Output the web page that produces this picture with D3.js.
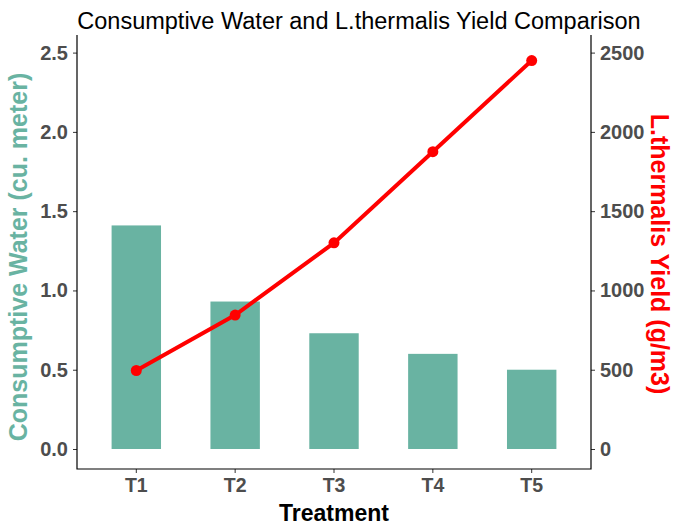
<!DOCTYPE html>
<html>
<head>
<meta charset="utf-8">
<script src="https://cdn.jsdelivr.net/npm/d3@7"></script>
<style>
  body { margin: 0; background: #fff; }
  svg text { font-family: "Liberation Sans", Arial, sans-serif; }
</style>
</head>
<body>
<div id="chart"></div>
<script>
const treatments = ['T1', 'T2', 'T3', 'T4', 'T5'];
const waterValues = [1.41, 0.93, 0.73, 0.60, 0.50];
const yieldValues = [495, 845, 1300, 1875, 2450];
const waterTicks = [0, 0.5, 1.0, 1.5, 2.0, 2.5];
const yieldTicks = [0, 500, 1000, 1500, 2000, 2500];

const width = 675;
const height = 526;
const panel = { left: 77, right: 591, top: 35, bottom: 469 };
const barColor = '#69b3a2';
const lineColor = '#ff0000';
const tickColor = '#4d4d4d';

const svg = d3.select('#chart')
  .append('svg')
  .attr('width', width)
  .attr('height', height);

const x = d3.scaleBand()
  .domain(treatments)
  .range([panel.left, panel.right])
  .paddingInner(0.5)
  .paddingOuter(0.35);

const yLeft = d3.scaleLinear().domain([0, 2.5]).range([449, 52.6]);
const yRight = d3.scaleLinear().domain([0, 2500]).range([449, 52.6]);

// bars
svg.selectAll('.bar')
  .data(treatments)
  .enter()
  .append('rect')
  .attr('class', 'bar')
  .attr('x', (d) => x(d))
  .attr('y', (d, i) => yLeft(waterValues[i]))
  .attr('width', x.bandwidth())
  .attr('height', (d, i) => yLeft(0) - yLeft(waterValues[i]))
  .attr('fill', barColor);

// yield line
const cx = (d) => x(d) + x.bandwidth() / 2;
const line = d3.line()
  .x((d) => cx(d))
  .y((d, i) => yRight(yieldValues[i]));

svg.append('path')
  .datum(treatments)
  .attr('d', line)
  .attr('fill', 'none')
  .attr('stroke', lineColor)
  .attr('stroke-width', 4);

svg.selectAll('.pt')
  .data(treatments)
  .enter()
  .append('circle')
  .attr('class', 'pt')
  .attr('cx', (d) => cx(d))
  .attr('cy', (d, i) => yRight(yieldValues[i]))
  .attr('r', 5.5)
  .attr('fill', lineColor);

// axes
function styleAxis(g, size) {
  g.select('.domain').remove();
  g.selectAll('.tick line').attr('stroke', '#333').attr('stroke-width', 1);
  g.selectAll('.tick text')
    .attr('fill', tickColor)
    .style('font-size', size)
    .style('font-weight', 'bold');
}

svg.append('g')
  .attr('transform', `translate(${panel.left},0)`)
  .call(d3.axisLeft(yLeft).tickValues(waterTicks).tickFormat(d3.format('.1f')).tickSize(4).tickPadding(5))
  .call(styleAxis, '20px');

svg.append('g')
  .attr('transform', `translate(${panel.right},0)`)
  .call(d3.axisRight(yRight).tickValues(yieldTicks).tickFormat(d3.format('d')).tickSize(4).tickPadding(5))
  .call(styleAxis, '20px');

svg.append('g')
  .attr('transform', `translate(0,${panel.bottom})`)
  .call(d3.axisBottom(x).tickSize(4).tickPadding(5))
  .call(styleAxis, '19.5px');

// axis lines (left, bottom, right)
svg.append('path')
  .attr('d', `M${panel.left},${panel.top}V${panel.bottom}H${panel.right}V${panel.top}`)
  .attr('fill', 'none')
  .attr('stroke', '#000')
  .attr('stroke-width', 1.2);

// titles
svg.append('text')
  .attr('x', 359)
  .attr('y', 29)
  .attr('text-anchor', 'middle')
  .style('font-size', '23.5px')
  .attr('fill', '#000')
  .text('Consumptive Water and L.thermalis Yield Comparison');

svg.append('text')
  .attr('x', 334)
  .attr('y', 521)
  .attr('text-anchor', 'middle')
  .style('font-size', '23px')
  .style('font-weight', 'bold')
  .attr('fill', '#000')
  .text('Treatment');

svg.append('text')
  .attr('transform', `translate(27,257) rotate(-90)`)
  .attr('text-anchor', 'middle')
  .style('font-size', '25px')
  .style('font-weight', 'bold')
  .attr('fill', barColor)
  .text('Consumptive Water (cu. meter)');

svg.append('text')
  .attr('transform', `translate(651,254) rotate(90)`)
  .attr('text-anchor', 'middle')
  .style('font-size', '25px')
  .style('font-weight', 'bold')
  .attr('fill', lineColor)
  .text('L.thermalis Yield (g/m3)');
</script>
</body>
</html>
